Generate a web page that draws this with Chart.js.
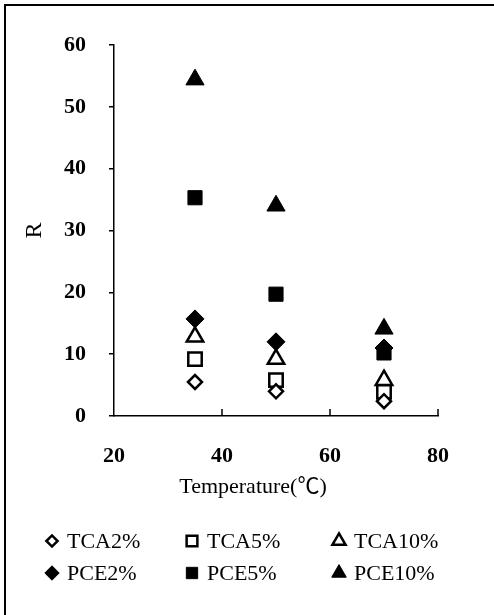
<!doctype html>
<html>
  <head>
    <title>R vs Temperature</title>
    <script src="https://cdn.jsdelivr.net/npm/chart.js@4.4.0/dist/chart.umd.min.js"></script>
    <style>
      html, body { margin: 0; background: #fff; overflow: hidden; }
      #wrap { position: relative; width: 494px; height: 615px; }
      #chart { display: block; }
      #frame { position: absolute; left: 4px; top: 4px; width: 490px; height: 611px;
               border-left: 2px solid #000; border-top: 2px solid #000; pointer-events: none; }
    </style>
  </head>
  <body>
    <div id="wrap">
      <canvas id="chart" width="494" height="615"></canvas>
      <div id="frame"></div>
    </div>
  </body>
  <script>
    // temperatures (°C) and R values
    const temps = [35, 50, 70];
    const tca2 = [5.5, 4.0, 2.4];
    const tca5 = [9.2, 5.8, 3.9];
    const tca10 = [12.8, 9.2, 5.8];
    const pce2 = [15.7, 12.0, 11.0];
    const pce5 = [35.3, 19.7, 10.2];
    const pce10 = [54.4, 34.0, 14.1];

    const xTicks = [20, 40, 60, 80];
    const yTicks = [0, 10, 20, 30, 40, 50, 60];
    const xTitle = 'Temperature(℃)';

    const serif = "'Liberation Serif', 'Times New Roman', 'Noto Sans CJK SC', serif";

    const toPoints = (values) => temps.map((t, i) => ({x: t, y: values[i]}));

    const makeSet = (label, values, style, radius, filled) => ({
      label: label,
      data: toPoints(values),
      pointStyle: style,
      pointRadius: radius,
      pointHoverRadius: radius,
      pointBorderWidth: filled ? 1 : 2.5,
      borderColor: '#000',
      backgroundColor: filled ? '#000' : '#fff',
      showLine: false,
    });

    const datasets = [
      makeSet('TCA2%', tca2, 'rectRot', 7, false),
      makeSet('TCA5%', tca5, 'rect', 9.5, false),
      makeSet('TCA10%', tca10, 'triangle', 9.5, false),
      makeSet('PCE2%', pce2, 'rectRot', 9, true),
      makeSet('PCE5%', pce5, 'rect', 10, true),
      makeSet('PCE10%', pce10, 'triangle', 10.5, true),
    ];

    // inward tick marks on the x axis, plus the axis title (sits left of centre in the original)
    const xAxisExtras = {
      id: 'xAxisExtras',
      afterDraw(chart) {
        const ctx = chart.ctx;
        const x = chart.scales.x;
        ctx.save();
        ctx.strokeStyle = '#000';
        ctx.lineWidth = 1.5;
        xTicks.slice(1).forEach((v) => {
          const px = x.getPixelForValue(v);
          ctx.beginPath();
          ctx.moveTo(px, x.top);
          ctx.lineTo(px, x.top - 7);
          ctx.stroke();
        });
        ctx.fillStyle = '#000';
        ctx.font = '22px ' + serif;
        ctx.textAlign = 'center';
        ctx.textBaseline = 'middle';
        ctx.fillText(xTitle, 253, 487);
        ctx.restore();
      }
    };

    // legend laid out in 3 columns x 2 rows
    const gridLegend = {
      id: 'gridLegend',
      afterDraw(chart) {
        const ctx = chart.ctx;
        const cols = [52, 192, 339];
        const rows = [541, 573];
        ctx.save();
        ctx.font = '22px ' + serif;
        ctx.fillStyle = '#000';
        ctx.textBaseline = 'middle';
        chart.data.datasets.forEach((ds, i) => {
          const cx = cols[i % 3];
          const cy = rows[Math.floor(i / 3)];
          ctx.save();
          ctx.fillStyle = ds.backgroundColor;
          ctx.strokeStyle = ds.borderColor;
          ctx.lineWidth = ds.pointBorderWidth;
          Chart.helpers.drawPoint(ctx, {
            pointStyle: ds.pointStyle,
            radius: ds.pointRadius * 0.8,
            rotation: 0,
            borderWidth: ds.pointBorderWidth,
          }, cx, cy);
          ctx.restore();
          ctx.fillText(ds.label, cx + 15, cy + 1);
        });
        ctx.restore();
      }
    };

    new Chart(document.getElementById('chart').getContext('2d'), {
      type: 'scatter',
      data: { datasets: datasets },
      plugins: [xAxisExtras, gridLegend],
      options: {
        responsive: false,
        animation: false,
        events: [],
        layout: { padding: { left: 0, right: 56, top: 45, bottom: 99 } },
        plugins: { legend: { display: false }, tooltip: { enabled: false } },
        scales: {
          x: {
            type: 'linear',
            min: 20,
            max: 80,
            afterBuildTicks: (s) => { s.ticks = xTicks.map((v) => ({value: v})); },
            afterFit: (s) => { s.height = 100; },
            grid: { display: false, drawTicks: false },
            border: { display: true, color: '#000', width: 1.5 },
            ticks: { color: '#000', padding: 27, font: { family: serif, size: 22, weight: 'bold' } },
          },
          y: {
            type: 'linear',
            min: 0,
            max: 60,
            afterBuildTicks: (s) => { s.ticks = yTicks.map((v) => ({value: v})); },
            afterFit: (s) => { s.width = 114; },
            grid: { display: true, drawOnChartArea: false, drawTicks: true, tickLength: 5, color: '#000', lineWidth: 1.5 },
            border: { display: true, color: '#000', width: 1.5 },
            ticks: { color: '#000', padding: 23, font: { family: serif, size: 22, weight: 'bold' } },
            title: {
              display: true,
              text: 'R',
              color: '#000',
              padding: { top: 20, bottom: 0 },
              font: { family: serif, size: 24 },
            },
          },
        },
      },
    });
  </script>
</html>
